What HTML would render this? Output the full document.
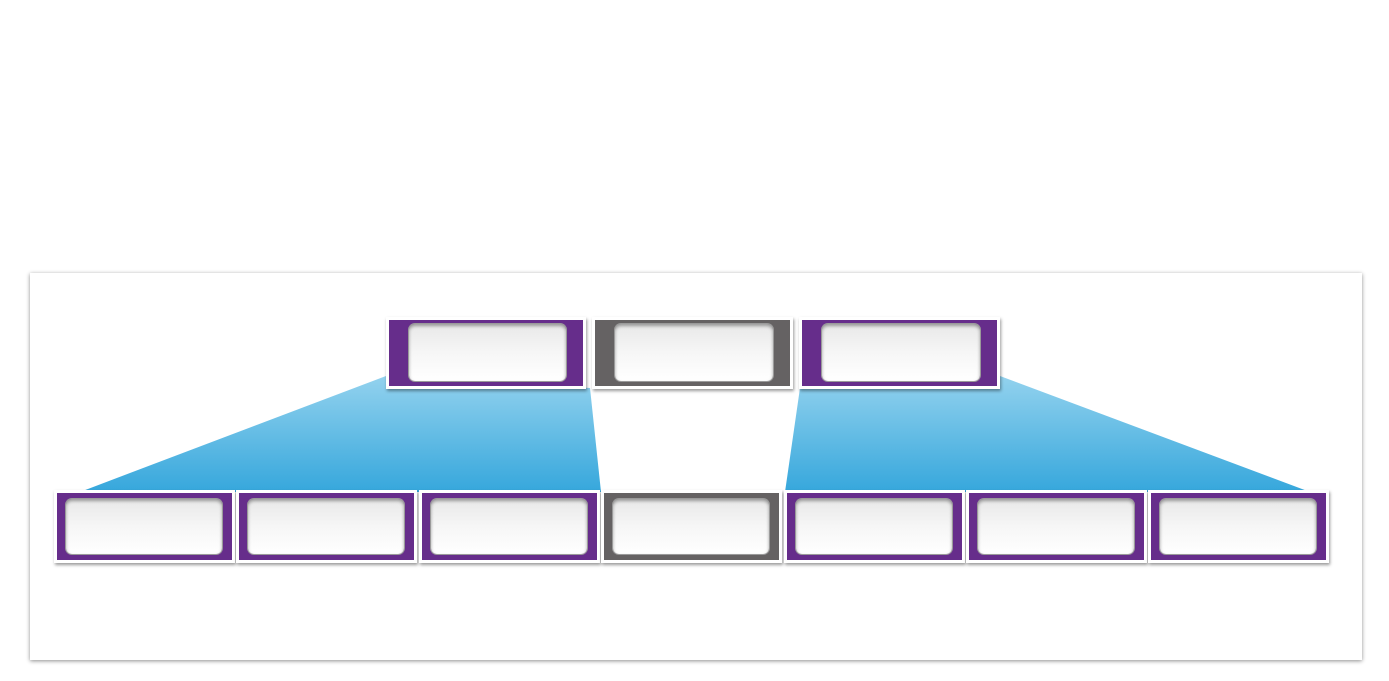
<!DOCTYPE html>
<html><head><style>
body{margin:0;width:1389px;height:681px;background:#fff;position:relative;overflow:hidden;font-family:"Liberation Sans",sans-serif}
.panel{position:absolute;left:30px;top:273px;width:1332px;height:387px;background:#fff;box-shadow:0 1px 4px rgba(0,0,0,.45)}
.b{position:absolute;box-sizing:border-box;border:3px solid #fff;box-shadow:1px 2px 3px rgba(0,0,0,.4);background:#662d8b}
.g{background:#656263}
.b i{position:absolute;left:9px;right:10px;top:6px;bottom:6px;border-radius:6px;background:linear-gradient(#e8e8e8,#f6f6f6 50%,#fff);box-shadow:inset 0 2px 3px rgba(0,0,0,.35),0 0 0 1px #9a9a9a}
.t i{left:20px;right:17px;top:4px;bottom:5px}
svg{position:absolute;left:0;top:0}
</style></head><body>
<div class="panel"></div>
<svg width="1389" height="681">
<defs><linearGradient id="bl" x1="0" y1="0" x2="0" y2="1"><stop offset="0" stop-color="#93d2ee"/><stop offset="1" stop-color="#36a7dc"/></linearGradient></defs>
<polygon points="386,376 590,388 601,492 80,492" fill="url(#bl)"/>
<polygon points="800,388 1000,376 1310,492 785,492" fill="url(#bl)"/>
</svg>
<div class="b t" style="left:386px;top:317px;width:200px;height:72px"><i></i></div>
<div class="b g t" style="left:592px;top:317px;width:201px;height:72px"><i></i></div>
<div class="b t" style="left:799px;top:317px;width:201px;height:72px"><i></i></div>
<div class="b" style="left:54px;top:490px;width:181px;height:73px"><i></i></div>
<div class="b" style="left:236px;top:490px;width:181px;height:73px"><i></i></div>
<div class="b" style="left:419px;top:490px;width:181px;height:73px"><i></i></div>
<div class="b g" style="left:601px;top:490px;width:181px;height:73px"><i></i></div>
<div class="b" style="left:784px;top:490px;width:181px;height:73px"><i></i></div>
<div class="b" style="left:966px;top:490px;width:181px;height:73px"><i></i></div>
<div class="b" style="left:1148px;top:490px;width:181px;height:73px"><i></i></div>
</body></html>
